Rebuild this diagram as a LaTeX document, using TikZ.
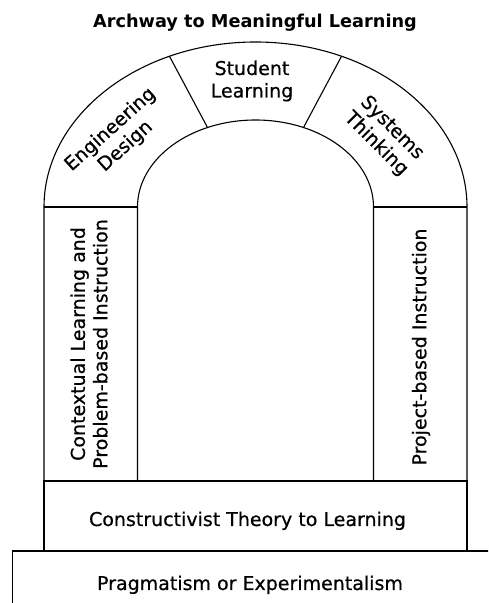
\documentclass[tikz,border=0pt]{standalone}
\usepackage{fontspec}
\setmainfont{DejaVu Sans}[FakeBold=0.6]
\newfontfamily\titlefont{DejaVu Sans Bold}
\usetikzlibrary{calc}
\begin{document}
\begin{tikzpicture}[x=1pt,y=1pt,
  line/.style={draw=black,line width=1.1pt},
  lbl/.style={font=\fontsize{19}{22.5}\selectfont,align=center,inner sep=0pt},
  ttl/.style={font=\titlefont\fontsize{17.7}{21}\selectfont,inner sep=0pt}]
\useasboundingbox (0,0) rectangle (488,603);
\clip (0,0) rectangle (488,603);
\coordinate (c) at (255.5,396);
% outer arch
\draw[line] (44,122) -- (44,396) arc[start angle=180,end angle=0,x radius=211.5,y radius=165] -- (467,122);
% inner arch
\draw[line] (137.5,122) -- (137.5,396) arc[start angle=180,end angle=0,x radius=118,y radius=87] -- (373.5,122);
% pillar tops
\draw[line] (44,396) -- (137.5,396);
\draw[line] (373.5,396) -- (467,396);
% arch dividers
\draw[line] ($(c)+(114:211.5 and 165)$) -- ($(c)+(114:118 and 87)$);
\draw[line] ($(c)+(66:211.5 and 165)$) -- ($(c)+(66:118 and 87)$);
% base boxes
\draw[line] (44,52) rectangle (467,122);
\draw[line] (12.5,-10) rectangle (500,52);
% texts
\node[ttl,anchor=base] (title) at (255,575) {Archway to Meaningful Learning};
\node[lbl] (student) at (252,522) {Student\\Learning};
\node[lbl,rotate=42] (eng) at (118,465) {Engineering\\Design};
\node[lbl,rotate=-45] (sys) at (384,467) {Systems\\Thinking};
\node[lbl,rotate=90] (ctx) at (89,259) {Contextual Learning and\\Problem-based Instruction};
\node[lbl,rotate=90] (pbi) at (421,256) {Project-based Instruction};
\node[lbl,anchor=base] (cons) at (247.5,77) {Constructivist Theory to Learning};
\node[lbl,anchor=base] (prag) at (250,13) {Pragmatism or Experimentalism};
\end{tikzpicture}
\end{document}
